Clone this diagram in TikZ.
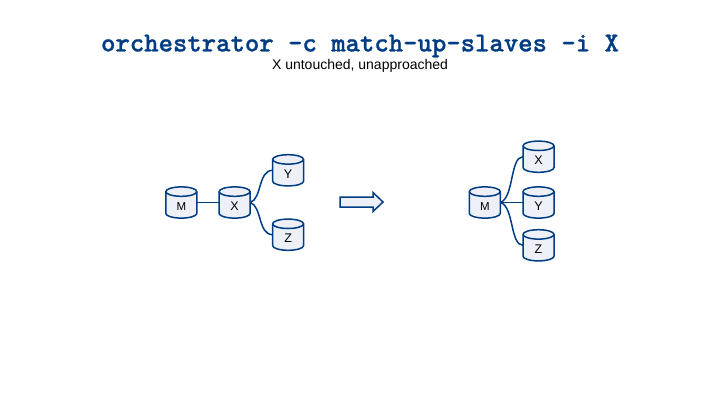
\documentclass[tikz,border=0pt]{standalone}
\usepackage{fontspec}
\setmainfont{Liberation Sans}
\usetikzlibrary{shapes.geometric}
\definecolor{navy}{HTML}{003C84}
\definecolor{pale}{HTML}{EDF0F6}
\newcommand{\heavytext}[1]{\special{pdf:code 2 Tr 0.25 w}#1\special{pdf:code 0 Tr 1 w}}
\tikzset{
  x=1pt,y=-1pt,
  dbbody/.style={draw=navy,line width=1.5pt,fill=pale},
  dbnode/.style={rectangle,inner sep=0pt,outer sep=0pt,minimum width=31pt,minimum height=31pt,
    text height=15.6pt,text depth=0pt,font=\fontsize{12.5}{12.5}\selectfont,text=black},
  dbsmall/.style={dbnode,font=\fontsize{11.5}{11.5}\selectfont},
  link/.style={draw=navy,line width=1.5pt},
  titletext/.style={font=\ttfamily\bfseries\fontsize{27.4}{27.4}\selectfont,text=navy,inner sep=0pt},
  subtext/.style={font=\fontsize{14}{14}\selectfont,text=black,inner sep=0pt},
  bigarrow/.style={draw=navy,line width=1.5pt,fill=pale,line join=miter}
}
\newcommand{\dbcyl}[5]{%
  \draw[dbbody] (#2-15.5,#3-10.9) -- (#2-15.5,#3+10.9)
    arc[start angle=180,end angle=360,x radius=15.5pt,y radius=4.7pt]
    -- (#2+15.5,#3-10.9)
    arc[start angle=0,end angle=180,x radius=15.5pt,y radius=4.7pt] -- cycle;
  \draw[dbbody,fill=none] (#2-15.5,#3-10.9)
    arc[start angle=180,end angle=360,x radius=15.5pt,y radius=4.7pt];
  \node[#5] (#1) at (#2,#3) {#4};
}
\begin{document}
\begin{tikzpicture}
\useasboundingbox (0,0) rectangle (720,405);
\node[titletext] (title) at (360,46) {\heavytext{orchestrator -c match-up-slaves -i X}};
\node[subtext] (sub) at (360,65.5) {X untouched, unapproached};
% left
\dbcyl{m1}{181.3}{202.5}{M}{dbsmall}
\dbcyl{x1}{234.6}{202.5}{X}{dbnode}
\dbcyl{y1}{288.1}{170.3}{Y}{dbnode}
\dbcyl{z1}{288.1}{234.7}{Z}{dbnode}
\draw[link] (m1.east) -- (x1.west);
\draw[link] (x1.east) .. controls (262,199) and (258,170.3) .. (y1.west);
\draw[link] (x1.east) .. controls (262,206) and (258,234.7) .. (z1.west);
% arrow
\draw[bigarrow] (340,197) -- (373,197) -- (373,192.5) -- (383,202) -- (373,211.5) -- (373,207) -- (340,207) -- cycle;
% right
\dbcyl{m2}{484.8}{202.5}{M}{dbsmall}
\dbcyl{x2}{538.5}{156.7}{X}{dbnode}
\dbcyl{y2}{538.5}{202.5}{Y}{dbnode}
\dbcyl{z2}{538.5}{245.3}{Z}{dbnode}
\draw[link] (m2.east) -- (y2.west);
\draw[link] (m2.east) .. controls (514,198) and (510,156.7) .. (x2.west);
\draw[link] (m2.east) .. controls (514,206) and (510,245.3) .. (z2.west);
\end{tikzpicture}
\end{document}
